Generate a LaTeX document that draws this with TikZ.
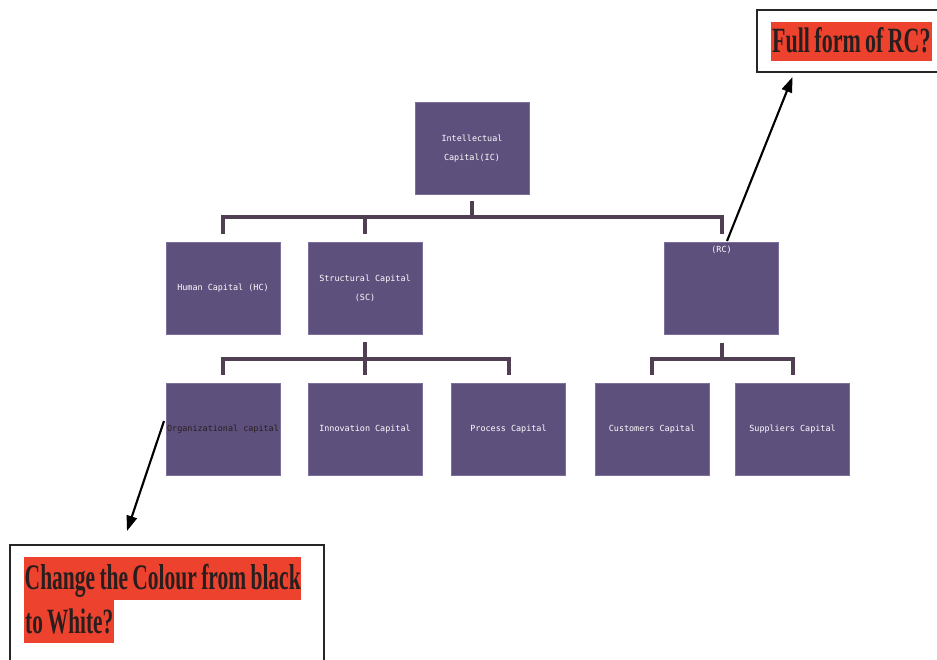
\documentclass[tikz,border=0pt]{standalone}
\usepackage{fontspec}
\usepackage{graphicx}
\setmainfont{Liberation Serif}
\newfontfamily\boxfont{DejaVu Sans Mono}
\usetikzlibrary{arrows.meta}
\definecolor{boxfill}{RGB}{94,80,124}
\definecolor{boxedge}{RGB}{125,110,155}
\definecolor{linkcol}{RGB}{80,62,82}
\definecolor{notered}{RGB}{236,66,46}
\definecolor{noteink}{RGB}{40,30,30}
% tight word spacing for the note captions
\newcommand{\tightwords}{\spaceskip=0.2em\relax}
\begin{document}
\begin{tikzpicture}[x=0.03cm,y=-0.03cm,
  capbox/.style={fill=boxfill, draw=boxedge, line width=0.3pt,
    minimum width=3.42cm, minimum height=2.76cm, inner sep=0pt,
    text=white, align=center, font=\boxfont\fontsize{7.2}{16}\selectfont},
  captag/.style={text=white, inner sep=1pt, font=\boxfont\fontsize{7.2}{9}\selectfont},
  link/.style={draw=linkcol, line width=3.4pt, line join=miter},
  noteframe/.style={draw=black!85, line width=2pt, fill=none, anchor=north west, inner sep=0pt},
  notetext/.style={fill=notered, text=noteink, inner ysep=0pt, anchor=north west, font=\bfseries\tightwords},
  pointer/.style={draw=black, line width=1.8pt, -{Triangle[length=13pt,width=9pt]}}
]
\useasboundingbox (0,0) rectangle (937,659);
\fill[white] (0,0) rectangle (937,659);
\clip (0,0) rectangle (937,659);

% capital boxes
\node[capbox] (ic)   at (472,148.5) {Intellectual\\Capital(IC)};
\node[capbox] (hc)   at (223,288.5) {Human Capital (HC)};
\node[capbox] (sc)   at (365,288.5) {Structural Capital\\(SC)};
\node[capbox] (rc)   at (721.5,288.5) {};
\node[captag] (rcLabel) at (721.5,250) {(RC)};
\node[capbox, text=noteink] (org) at (223,429) {Organizational capital};
\node[capbox] (inn)  at (365,429) {Innovation Capital};
\node[capbox] (proc) at (508.5,429) {Process Capital};
\node[capbox] (cust) at (652,429) {Customers Capital};
\node[capbox] (supp) at (792.5,429) {Suppliers Capital};

% tree connectors
\coordinate (bar1) at (0,217);
\coordinate (bar2) at (0,359);
\draw[link] ([yshift=-0.18cm]ic.south) -- (ic.south |- bar1);
\draw[link] ([yshift=0.24cm]hc.north) -- (hc.north |- bar1) -- (rc.north |- bar1) -- ([yshift=0.24cm]rc.north);
\draw[link] (sc.north |- bar1) -- ([yshift=0.24cm]sc.north);
\draw[link] ([yshift=-0.21cm]sc.south) -- (sc.south |- bar2);
\draw[link] ([yshift=0.24cm]org.north) -- (org.north |- bar2) -- (proc.north |- bar2) -- ([yshift=0.24cm]proc.north);
\draw[link] (inn.north |- bar2) -- ([yshift=0.24cm]inn.north);
\draw[link] ([yshift=-0.24cm]rc.south) -- (rc.south |- bar2);
\draw[link] ([yshift=0.24cm]cust.north) -- (cust.north |- bar2) -- (supp.north |- bar2) -- ([yshift=0.24cm]supp.north);

% review notes
\node[noteframe, minimum width=5.82cm, minimum height=1.86cm] (rcNote) at (756,9) {};
\node[notetext, text height=0.9cm, text depth=0.26cm, inner xsep=0.03cm] (rcAsk) at (771,22)
  {\resizebox{4.75cm}{0.75cm}{\tightwords Full form of RC?}};
\node[noteframe, minimum width=9.42cm, minimum height=3.9cm] (colNote) at (9,544) {};
\node[notetext, text height=0.96cm, text depth=0.33cm, inner xsep=0.015cm] (colAsk1) at (24,557)
  {\resizebox{8.28cm}{0.76cm}{\tightwords Change the Colour from black}};
\node[notetext, text height=0.99cm, text depth=0.3cm, inner xsep=0.03cm] (colAsk2) at (24,600)
  {\resizebox{2.64cm}{0.74cm}{\tightwords to White?}};

% pointers to the notes
\coordinate (rcTail) at (727,241);
\coordinate (rcTip) at (792.5,77);
\coordinate (orgTail) at (164,421);
\coordinate (orgTip) at (127,531);
\draw[pointer] (rcTail) -- (rcTip);
\draw[pointer] (orgTail) -- (orgTip);
\end{tikzpicture}
\end{document}
